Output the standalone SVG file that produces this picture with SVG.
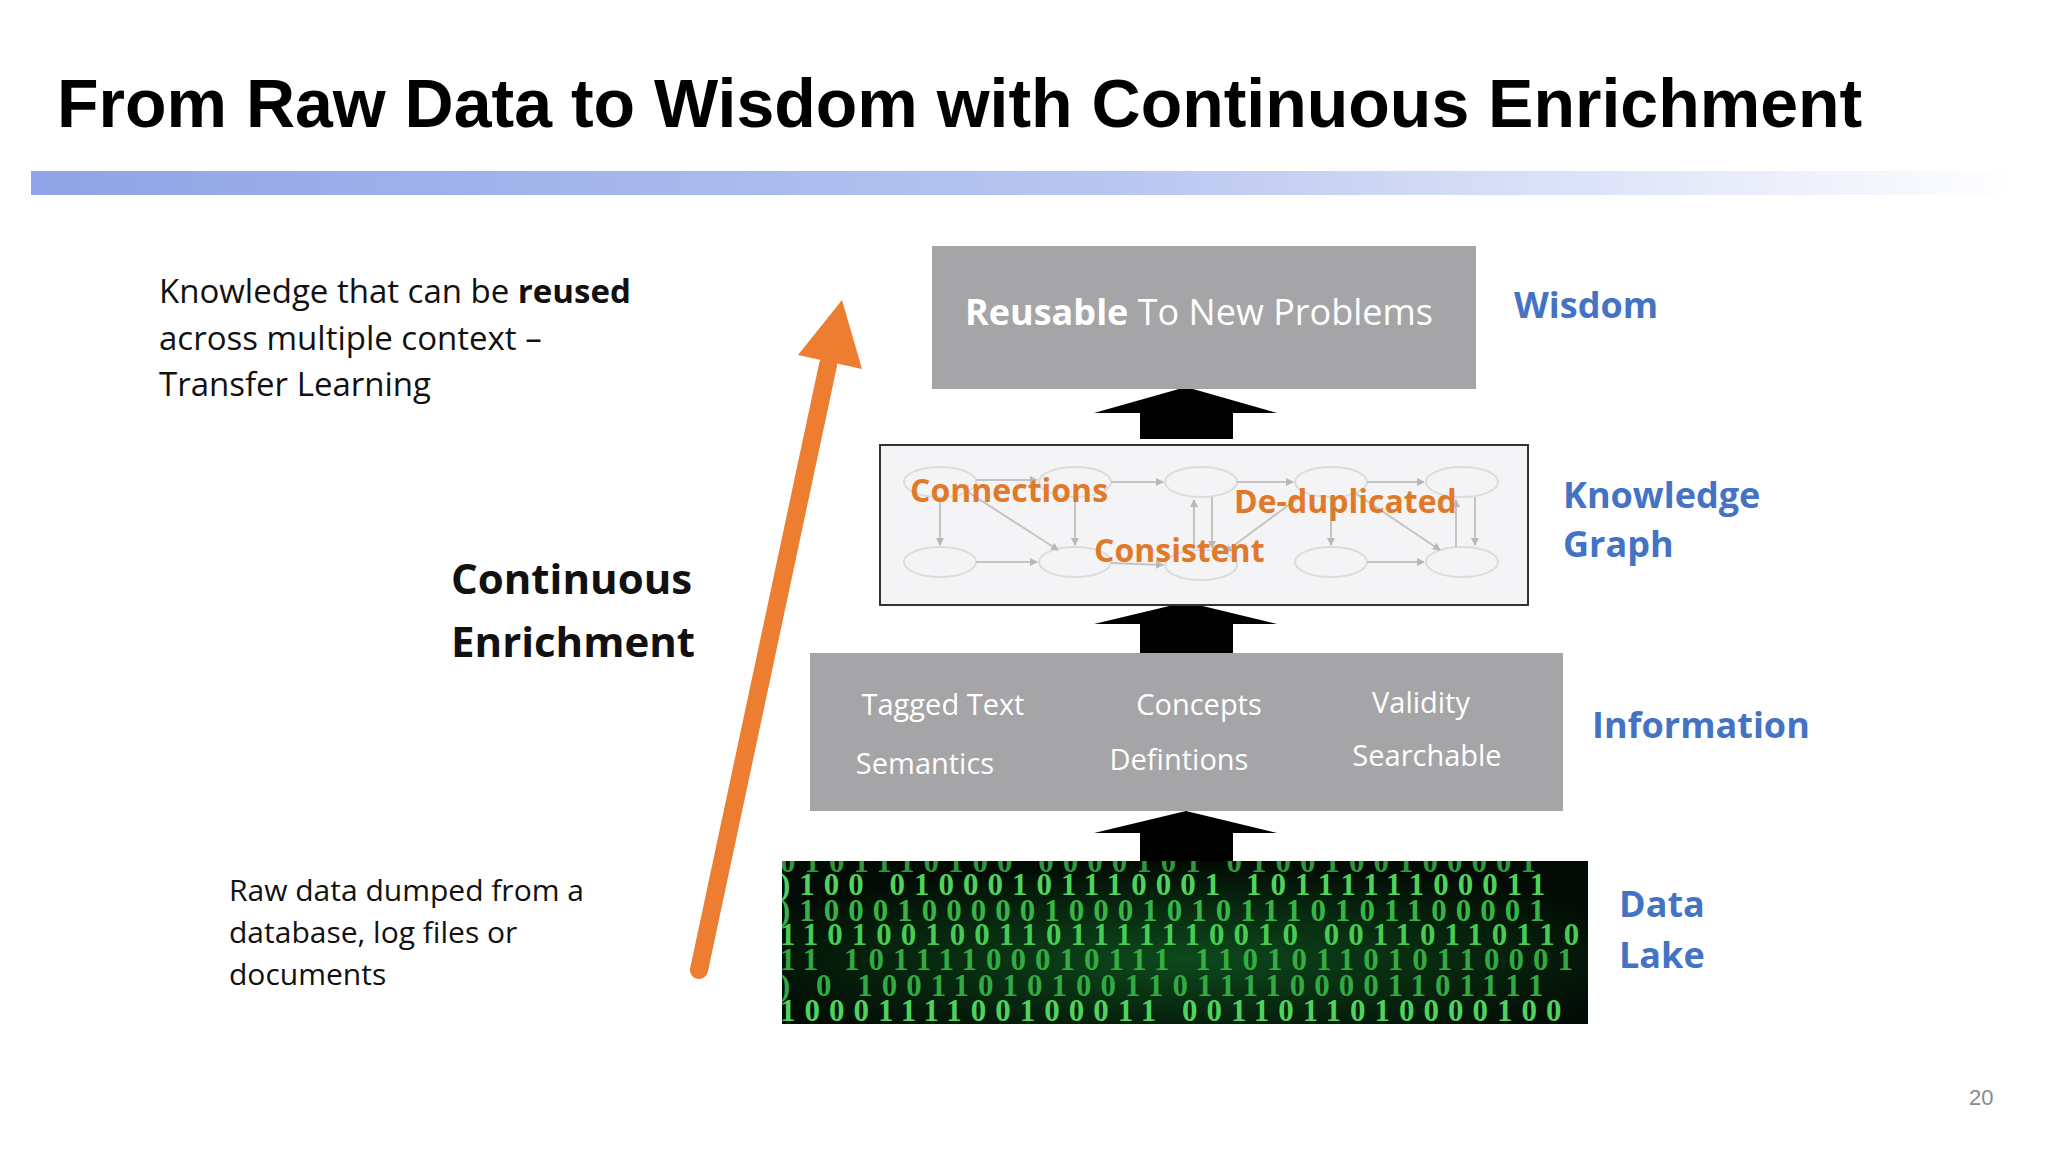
<svg xmlns="http://www.w3.org/2000/svg" width="2048" height="1152" viewBox="0 0 2048 1152">
<defs>
<linearGradient id="bar" x1="0" x2="1" y1="0" y2="0"><stop offset="0" stop-color="#8fa4e6"/><stop offset="0.55" stop-color="#b9c6f0"/><stop offset="1" stop-color="#ffffff"/></linearGradient>
<radialGradient id="lake" cx="0.5" cy="0.6" r="0.6"><stop offset="0" stop-color="#0d4a1c"/><stop offset="1" stop-color="#020b04"/></radialGradient>
<marker id="ga" markerWidth="8" markerHeight="8" refX="7" refY="4" orient="auto" markerUnits="userSpaceOnUse"><path d="M0,0 L8,4 L0,8 z" fill="#b8b8b8"/></marker>
<clipPath id="lc"><rect x="782" y="861" width="806" height="163"/></clipPath>
<style>
.t{font-family:"Liberation Sans",Arial,sans-serif}
.lbl{font-family:"Open Sans","Noto Sans",sans-serif;font-weight:bold;fill:#4472c4;font-size:36px}
.body{font-family:"Open Sans","Noto Sans",sans-serif;fill:#111}
.info{font-family:"Open Sans","Noto Sans",sans-serif;fill:#fff;text-anchor:middle}
.kg{font-family:"Open Sans","Noto Sans",sans-serif;font-size:32px;font-weight:bold;fill:#e07a2a}
.el{fill:none;stroke:#dcdcdc;stroke-width:2}
.ln{stroke:#c4c4c4;stroke-width:2;marker-end:url(#ga)}
.up{fill:#000}
.bin{font-family:"Liberation Serif",serif;font-size:31px;font-weight:bold;letter-spacing:9px}
</style>
</defs>
<rect width="2048" height="1152" fill="#fff"/>
<text class="t" x="57" y="127" font-size="68" font-weight="bold" fill="#000">From Raw Data to Wisdom with Continuous Enrichment</text>
<rect x="31" y="171" width="1987" height="24" fill="url(#bar)"/>

<g id="left-text">
<text class="body" x="159" y="303" font-size="33">Knowledge that can be <tspan font-weight="bold">reused</tspan></text>
<text class="body" x="159" y="350" font-size="33">across multiple context –</text>
<text class="body" x="159" y="396" font-size="33">Transfer Learning</text>
<text class="body" x="451" y="594" font-size="42" font-weight="bold">Continuous</text>
<text class="body" x="451" y="657" font-size="42" font-weight="bold">Enrichment</text>
<text class="body" x="229" y="901" font-size="30">Raw data dumped from a</text>
<text class="body" x="229" y="943" font-size="30">database, log files or</text>
<text class="body" x="229" y="985" font-size="30">documents</text>
</g>

<g id="enrichment-arrow">
<line x1="699" y1="970" x2="828" y2="365" stroke="#ed7d31" stroke-width="18" stroke-linecap="round"/>
<polygon points="842,300 798,355 862,369" fill="#ed7d31"/>
</g>

<g id="connectors">
<polygon class="up" points="1186,387 1094,413 1277,413"/><rect class="up" x="1140" y="412" width="93" height="27"/>
<polygon class="up" points="1186,602 1094,624 1277,624"/><rect class="up" x="1140" y="623" width="93" height="30"/>
<polygon class="up" points="1186,811 1094,833 1277,833"/><rect class="up" x="1140" y="832" width="93" height="29"/>
</g>

<g id="wisdom">
<rect x="932" y="246" width="544" height="143" fill="#a5a5a7"/>
<text class="info" x="1199" y="325" font-size="36"><tspan font-weight="bold">Reusable</tspan> To New Problems</text>
<text class="lbl" x="1514" y="318">Wisdom</text>
</g>

<g id="knowledge-graph">
<rect x="880" y="445" width="648" height="160" fill="#f4f4f6" stroke="#333" stroke-width="2"/>
<ellipse class="el" cx="940" cy="482" rx="36" ry="15"/><ellipse class="el" cx="1075" cy="482" rx="36" ry="15"/><ellipse class="el" cx="1201" cy="482" rx="36" ry="15"/><ellipse class="el" cx="1331" cy="482" rx="36" ry="15"/><ellipse class="el" cx="1462" cy="482" rx="36" ry="15"/>
<ellipse class="el" cx="940" cy="562" rx="36" ry="15"/><ellipse class="el" cx="1075" cy="562" rx="36" ry="15"/><ellipse class="el" cx="1201" cy="565" rx="36" ry="15"/><ellipse class="el" cx="1331" cy="562" rx="36" ry="15"/><ellipse class="el" cx="1462" cy="562" rx="36" ry="15"/>
<line class="ln" x1="976" y1="480" x2="1037" y2="480"/><line class="ln" x1="1111" y1="482" x2="1163" y2="482"/><line class="ln" x1="1237" y1="482" x2="1293" y2="482"/><line class="ln" x1="1367" y1="482" x2="1424" y2="482"/>
<line class="ln" x1="940" y1="497" x2="940" y2="545"/><line class="ln" x1="1075" y1="497" x2="1075" y2="545"/><line class="ln" x1="1212" y1="497" x2="1212" y2="548"/><line class="ln" x1="1194" y1="549" x2="1194" y2="500"/><line class="ln" x1="1331" y1="497" x2="1331" y2="545"/><line class="ln" x1="1475" y1="497" x2="1475" y2="545"/><line class="ln" x1="1456" y1="547" x2="1456" y2="500"/>
<line class="ln" x1="976" y1="562" x2="1037" y2="562"/><line class="ln" x1="1111" y1="563" x2="1163" y2="565"/><line class="ln" x1="1367" y1="562" x2="1424" y2="562"/>
<line class="ln" x1="968" y1="492" x2="1058" y2="550"/><line class="ln" x1="1305" y1="493" x2="1225" y2="552"/><line class="ln" x1="1355" y1="493" x2="1440" y2="550"/>
<text class="kg" x="910" y="502">Connections</text>
<text class="kg" x="1234" y="513">De-duplicated</text>
<text class="kg" x="1094" y="562">Consistent</text>
<text class="lbl" x="1563" y="508">Knowledge</text>
<text class="lbl" x="1563" y="557">Graph</text>
</g>

<g id="information">
<rect x="810" y="653" width="753" height="158" fill="#a5a5a7"/>
<text class="info" x="943" y="715" font-size="29">Tagged Text</text>
<text class="info" x="1199" y="715" font-size="29">Concepts</text>
<text class="info" x="1421" y="713" font-size="29">Validity</text>
<text class="info" x="925" y="774" font-size="29">Semantics</text>
<text class="info" x="1179" y="770" font-size="29">Defintions</text>
<text class="info" x="1427" y="766" font-size="29">Searchable</text>
<text class="lbl" x="1592" y="738">Information</text>
</g>

<g id="data-lake">
<rect x="782" y="861" width="806" height="163" fill="url(#lake)"/>
<g clip-path="url(#lc)">
<text class="bin" x="780" y="872" fill="#3bbd4a" opacity="0.8">0101110100 0000101 0100100100001</text>
<text class="bin" x="780" y="895" fill="#4fd35c">)100 01000101110001  1011111100011</text>
<text class="bin" x="780" y="921" fill="#3ec44c" opacity="0.9">)1000100000100010101110101100001</text>
<text class="bin" x="780" y="945" fill="#46cc52">1101001001101111110010 00110110110</text>
<text class="bin" x="780" y="970" fill="#3cc04a" opacity="0.85">11 10111100010111 1101011010110001</text>
<text class="bin" x="780" y="996" fill="#34a842">) 0 10011010100110111100001101111</text>
<text class="bin" x="780" y="1021" fill="#4fd35c">1000111100100011 0011011010000100</text>
</g>
<text class="lbl" x="1619" y="917">Data</text>
<text class="lbl" x="1619" y="968">Lake</text>
</g>

<text class="t" x="1969" y="1105" font-size="22" fill="#8a8a8a">20</text>
</svg>
